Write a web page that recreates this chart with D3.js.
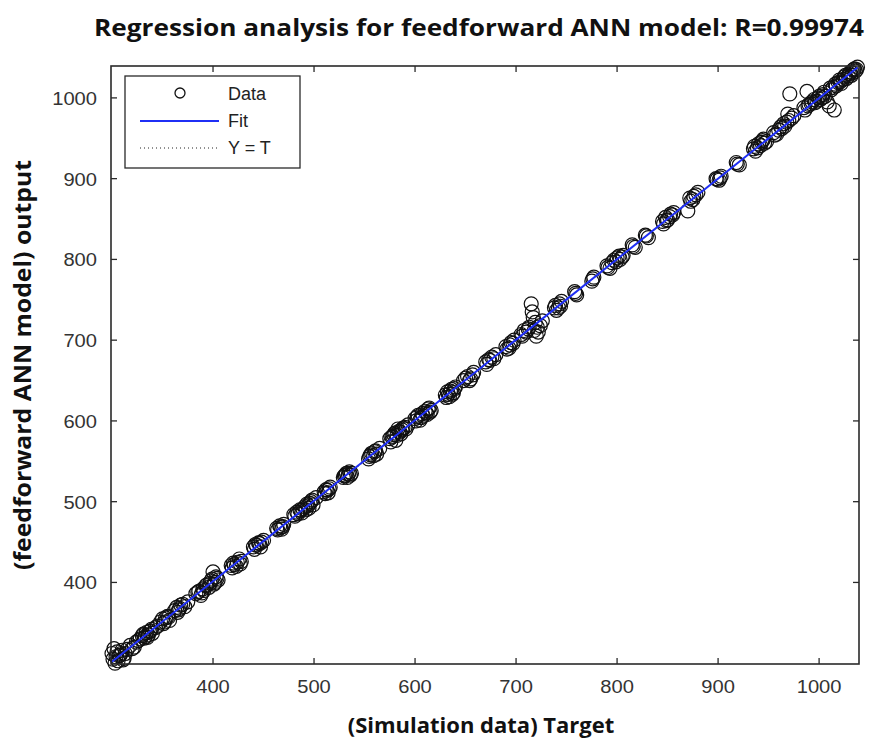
<!DOCTYPE html>
<html>
<head>
<meta charset="utf-8">
<script src="https://cdn.jsdelivr.net/npm/d3@7"></script>
<style>
  body { margin: 0; background: #fff; }
  svg { display: block; }
</style>
</head>
<body>
<svg id="chart" width="870" height="745"></svg>
<script>
// target (simulation data) and ANN output
const targets = [300,301,302,303,304,305,306,308,310,312,313,318,322,326,330,332,334,336,338,340,345,350,352,355,357,364,366,368,372,375,385,388,390,393,396,398,400,401,403,405,418,420,423,426,428,440,442,445,447,450,463,466,468,470,480,483,486,488,491,493,495,497,499,502,510,512,514,516,530,532,533,535,536,555,557,560,562,565,575,577,579,581,583,585,587,590,593,600,602,605,607,610,612,614,616,630,632,634,636,638,640,648,652,655,658,670,673,676,680,690,693,695,698,705,708,712,715,717,718,720,722,724,726,738,740,743,745,758,760,775,777,790,793,797,800,803,806,815,818,828,831,845,848,850,853,856,870,873,876,880,898,901,903,918,921,935,937,940,943,945,948,955,958,962,965,968,971,973,975,985,988,990,993,995,998,1000,1003,1005,1008,1010,1012,1015,1017,1020,1022,1025,1027,1030,1032,1034,1036,1038,
  307,309,311,315,320,324,328,331,333,335,337,339,343,348,351,353,356,362,365,367,370,383,386,389,391,394,397,399,402,404,419,421,424,427,441,443,446,448,464,467,469,481,484,487,489,492,494,496,498,511,513,515,529,531,534,537,554,556,559,561,576,578,580,582,584,586,588,591,601,603,606,608,611,613,615,631,633,635,637,639,650,654,657,671,674,678,691,694,697,706,710,713,716,719,721,739,742,744,759,776,791,795,799,802,805,816,829,846,849,852,855,872,875,878,899,902,919,936,939,942,944,946,956,960,963,966,969,970,986,989,992,996,999,1001,1004,1006,1011,1014,1016,1019,1021,1024,1026,1029,1031,1033,1035,1037];
const outputs = [312,305,318,300,308,314,303,310,316,306,312,322,320,328,334,331,338,335,340,337,346,355,351,358,353,369,366,372,370,376,388,384,392,396,394,402,413,398,407,403,421,424,420,429,426,444,447,449,444,452,467,470,466,472,484,487,490,486,494,497,492,500,496,505,512,515,511,518,532,535,530,537,533,556,560,562,559,566,578,580,583,576,590,586,589,592,595,603,605,601,609,612,608,616,613,632,636,630,639,635,642,650,655,652,660,673,676,679,682,692,690,697,700,707,712,714,745,728,712,705,710,718,724,740,737,745,748,760,756,773,778,792,789,799,802,800,805,818,815,830,827,847,852,849,856,858,860,872,878,883,900,898,903,920,917,937,934,943,945,949,946,957,955,964,968,970,1005,975,978,988,1008,992,995,998,996,1002,1000,1007,995,990,1010,985,1015,1022,1018,1026,1024,1030,1028,1035,1033,1038,
  309,312,304,317,318,326,330,336,333,332,339,342,344,351,349,356,357,365,363,368,373,386,389,387,390,397,399,404,400,405,418,422,425,423,441,446,448,450,465,468,469,482,485,489,491,490,495,498,502,510,514,516,530,533,534,535,553,558,557,563,574,581,585,582,587,584,591,590,600,607,604,606,610,615,611,629,633,637,633,640,653,650,657,670,675,677,689,694,696,705,710,716,735,722,716,743,740,742,758,776,790,796,797,804,803,816,829,844,848,853,855,876,874,880,899,901,918,940,938,941,947,944,954,960,962,965,980,972,985,990,993,994,1000,998,1004,1002,1012,1013,1017,1019,1020,1023,1028,1027,1032,1031,1036,1035];

const xTicks = [400, 500, 600, 700, 800, 900, 1000];
const yTicks = [400, 500, 600, 700, 800, 900, 1000];
const domainLo = 299, domainHi = 1039.5;

const titleText = 'Regression analysis for feedforward ANN model: R=0.99974';
const xLabel = '(Simulation data) Target';
const yLabel = '(feedforward ANN model) output';
const legendNames = ['Data', 'Fit', 'Y = T'];

const svg = d3.select('#chart');
const margin = {left: 111, top: 66, right: 11, bottom: 81};
const W = 870 - margin.left - margin.right;
const H = 745 - margin.top - margin.bottom;

const x = d3.scaleLinear().domain([domainLo, domainHi]).range([0, W]);
const y = d3.scaleLinear().domain([domainLo, domainHi]).range([H, 0]);

const g = svg.append('g').attr('transform', `translate(${margin.left},${margin.top})`);

// least squares fit of output on target
const mx = d3.mean(targets), my = d3.mean(outputs);
let sxy = 0, sxx = 0;
targets.forEach((t, i) => { sxy += (t - mx) * (outputs[i] - my); sxx += (t - mx) * (t - mx); });
const slope = sxy / sxx, intercept = my - slope * mx;

const data = targets.map((t, i) => ({t: t, o: outputs[i]}));

// circles
g.append('g').selectAll('circle')
  .data(data)
  .join('circle')
  .attr('cx', d => x(d.t))
  .attr('cy', d => y(d.o))
  .attr('r', 7)
  .attr('fill', 'none')
  .attr('stroke', '#111')
  .attr('stroke-width', 1.2);

// Y = T dotted
g.append('line')
  .attr('x1', x(domainLo)).attr('y1', y(domainLo))
  .attr('x2', x(domainHi)).attr('y2', y(domainHi))
  .attr('stroke', '#222').attr('stroke-width', 1)
  .attr('stroke-dasharray', '1,3');

// fit line
const tMin = d3.min(targets), tMax = d3.max(targets);
g.append('line')
  .attr('x1', x(tMin)).attr('y1', y(slope * tMin + intercept))
  .attr('x2', x(tMax)).attr('y2', y(slope * tMax + intercept))
  .attr('stroke', '#1f2ff5').attr('stroke-width', 2);

// box and ticks
const axisColor = '#2a2a2a';
g.append('rect').attr('width', W).attr('height', H)
  .attr('fill', 'none').attr('stroke', axisColor).attr('stroke-width', 1.6);

const tickLen = 6;
const tk = g.append('g').attr('stroke', axisColor).attr('stroke-width', 1.3);
xTicks.forEach(v => {
  tk.append('line').attr('x1', x(v)).attr('x2', x(v)).attr('y1', H).attr('y2', H - tickLen);
  tk.append('line').attr('x1', x(v)).attr('x2', x(v)).attr('y1', 0).attr('y2', tickLen);
});
yTicks.forEach(v => {
  tk.append('line').attr('y1', y(v)).attr('y2', y(v)).attr('x1', 0).attr('x2', tickLen);
  tk.append('line').attr('y1', y(v)).attr('y2', y(v)).attr('x1', W).attr('x2', W - tickLen);
});

const tickFont = '"Liberation Sans", Arial, sans-serif';
g.append('g').selectAll('text')
  .data(xTicks)
  .join('text')
  .attr('x', d => x(d)).attr('y', H + 29)
  .attr('text-anchor', 'middle')
  .attr('font-family', tickFont).attr('font-size', 18).attr('fill', '#333')
  .attr('textLength', d => String(d).length * 11.2).attr('lengthAdjust', 'spacingAndGlyphs')
  .text(d => d);

g.append('g').selectAll('text')
  .data(yTicks)
  .join('text')
  .attr('x', -14).attr('y', d => y(d) + 7)
  .attr('text-anchor', 'end')
  .attr('font-family', tickFont).attr('font-size', 18).attr('fill', '#333')
  .attr('textLength', d => String(d).length * 11.2).attr('lengthAdjust', 'spacingAndGlyphs')
  .text(d => d);

// titles
const boldFont = '"Open Sans", "DejaVu Sans", sans-serif';
svg.append('text')
  .attr('x', 479).attr('y', 36)
  .attr('text-anchor', 'middle')
  .attr('font-family', boldFont).attr('font-weight', 700).attr('font-size', 24)
  .attr('fill', '#111')
  .attr('textLength', 770).attr('lengthAdjust', 'spacingAndGlyphs')
  .text(titleText);

svg.append('text')
  .attr('x', 481).attr('y', 733)
  .attr('text-anchor', 'middle')
  .attr('font-family', boldFont).attr('font-weight', 700).attr('font-size', 22)
  .attr('fill', '#111')
  .text(xLabel);

svg.append('text')
  .attr('transform', 'translate(31,365) rotate(-90)')
  .attr('text-anchor', 'middle')
  .attr('font-family', boldFont).attr('font-weight', 700).attr('font-size', 23)
  .attr('fill', '#111')
  .attr('textLength', 410).attr('lengthAdjust', 'spacingAndGlyphs')
  .text(yLabel);

// legend
const lg = svg.append('g').attr('transform', 'translate(125,76)');
lg.append('rect').attr('width', 175).attr('height', 92)
  .attr('fill', '#fff').attr('stroke', axisColor).attr('stroke-width', 1.3);
lg.append('circle').attr('cx', 55).attr('cy', 17).attr('r', 5)
  .attr('fill', 'none').attr('stroke', '#111').attr('stroke-width', 1.3);
lg.append('line').attr('x1', 15).attr('x2', 94).attr('y1', 45).attr('y2', 45)
  .attr('stroke', '#1f2ff5').attr('stroke-width', 2);
lg.append('line').attr('x1', 15).attr('x2', 94).attr('y1', 72).attr('y2', 72)
  .attr('stroke', '#222').attr('stroke-width', 1).attr('stroke-dasharray', '1,3');
lg.selectAll('text.leg')
  .data(legendNames)
  .join('text')
  .attr('class', 'leg')
  .attr('x', 103).attr('y', (d, i) => 24 + i * 27)
  .attr('font-family', tickFont).attr('font-size', 18).attr('fill', '#222')
  .text(d => d);
</script>
</body>
</html>
